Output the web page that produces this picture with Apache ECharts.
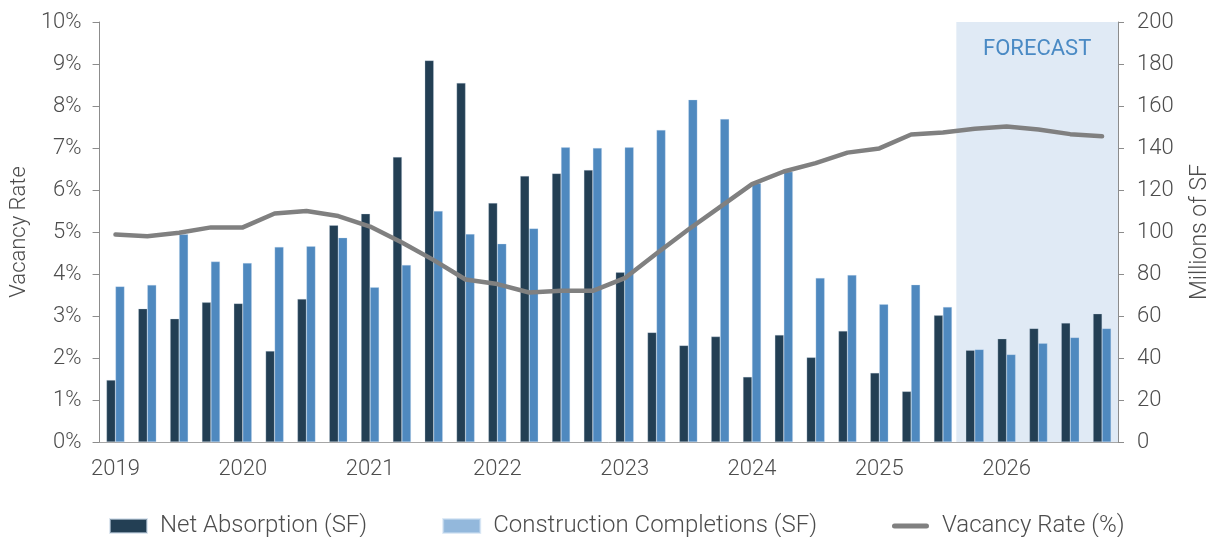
<!DOCTYPE html>
<html>
<head>
<meta charset="utf-8">
<script src="https://cdn.jsdelivr.net/npm/echarts@6/dist/echarts.min.js"></script>
<style>
html,body{margin:0;padding:0;background:#fff;}
#chart{width:1220px;height:537px;}
</style>
</head>
<body>
<div id="chart"></div>
<script>
const quarters = [
  '2019 Q1','2019 Q2','2019 Q3','2019 Q4',
  '2020 Q1','2020 Q2','2020 Q3','2020 Q4',
  '2021 Q1','2021 Q2','2021 Q3','2021 Q4',
  '2022 Q1','2022 Q2','2022 Q3','2022 Q4',
  '2023 Q1','2023 Q2','2023 Q3','2023 Q4',
  '2024 Q1','2024 Q2','2024 Q3','2024 Q4',
  '2025 Q1','2025 Q2','2025 Q3','2025 Q4',
  '2026 Q1','2026 Q2','2026 Q3','2026 Q4'
];
// Millions of SF (right axis)
const netAbsorption = [
  29.5, 63.5, 58.7, 66.5,
  66.0, 43.3, 68.1, 103.2,
  108.7, 135.7, 181.7, 171.0,
  113.8, 126.7, 127.9, 129.5,
  80.8, 52.2, 46.0, 50.2,
  31.0, 51.0, 40.3, 52.9,
  32.9, 24.1, 60.3, 43.7,
  49.2, 54.1, 56.7, 61.1
];
const constructionCompletions = [
  74.1, 74.8, 98.9, 85.9,
  85.2, 92.9, 93.2, 97.3,
  73.7, 84.3, 110.0, 99.0,
  94.4, 101.7, 140.3, 140.0,
  140.3, 148.6, 163.0, 153.8,
  123.2, 128.7, 78.1, 79.5,
  65.6, 74.9, 64.3, 44.1,
  41.7, 47.0, 49.8, 54.1
];
// Vacancy rate, % (left axis)
const vacancyRate = [
  4.94, 4.90, 4.98, 5.11,
  5.11, 5.44, 5.50, 5.38,
  5.13, 4.75, 4.33, 3.87,
  3.76, 3.56, 3.60, 3.60,
  3.90, 4.49, 5.06, 5.60,
  6.14, 6.44, 6.64, 6.89,
  6.99, 7.32, 7.37, 7.46,
  7.51, 7.44, 7.33, 7.28
];
const forecastStart = 26.92; // position along the quarter axis (in quarters)
const forecastEnd = 32;
const leftTicks = { min: 0, max: 10, interval: 1 };
const rightTicks = { min: 0, max: 200, interval: 20 };

const FONT = 'Roboto';
const TXT = '#4d4d4d';
const AX = '#8c8c8c';

const chart = echarts.init(document.getElementById('chart'), null, { renderer: 'canvas' });
chart.setOption({
  animation: false,
  backgroundColor: '#ffffff',
  textStyle: { fontFamily: FONT, fontWeight: 300 },
  grid: { left: 97, right: 99, top: 22, bottom: 95, containLabel: false },
  legend: {
    top: 514,
    left: 109,
    padding: 0,
    itemWidth: 37,
    itemHeight: 14,
    itemGap: 75,
    textStyle: { fontFamily: FONT, fontWeight: 300, fontSize: 24, color: TXT, padding: [0, 0, 0, 8] },
    data: [
      { name: 'Net Absorption (SF)', icon: 'rect', itemStyle: { color: '#233f54' } },
      { name: 'Construction Completions (SF)', icon: 'rect', itemStyle: { color: '#93b8dc' } },
      { name: 'Vacancy Rate (%)',
        icon: 'path://M2.5,0 H34.5 A2.5,2.5 0 0 1 34.5,5 H2.5 A2.5,2.5 0 0 1 2.5,0 Z',
        itemStyle: { color: '#808080' } }
    ]
  },
  xAxis: [
    {
      type: 'category',
      data: quarters,
      boundaryGap: true,
      axisLine: { show: true, lineStyle: { color: '#a6a6a6', width: 1 } },
      axisTick: { show: false },
      axisLabel: {
        interval: 3,
        margin: 16,
        fontSize: 22,
        fontFamily: FONT,
        fontWeight: 300,
        color: TXT,
        formatter: v => v.slice(0, 4)
      },
      splitLine: { show: false }
    },
    {
      type: 'value',
      min: 0,
      max: 32,
      show: false
    }
  ],
  yAxis: [
    {
      type: 'value',
      min: leftTicks.min, max: leftTicks.max, interval: leftTicks.interval,
      position: 'left',
      name: 'Vacancy Rate',
      nameLocation: 'middle',
      nameRotate: 90,
      nameGap: 66,
      nameTextStyle: { fontSize: 22, fontFamily: FONT, fontWeight: 300, color: TXT },
      axisLine: { show: true, lineStyle: { color: AX, width: 1 } },
      axisTick: { show: true, length: 7, lineStyle: { color: AX } },
      axisLabel: { formatter: '{value}%', margin: 18, fontSize: 22, fontFamily: FONT, fontWeight: 300, color: TXT },
      splitLine: { show: false }
    },
    {
      type: 'value',
      min: rightTicks.min, max: rightTicks.max, interval: rightTicks.interval,
      position: 'right',
      name: 'Millions of SF',
      nameLocation: 'middle',
      nameRotate: 90,
      nameGap: 71,
      nameTextStyle: { fontSize: 23, fontFamily: FONT, fontWeight: 300, color: TXT },
      axisLine: { show: true, lineStyle: { color: AX, width: 1 } },
      axisTick: { show: true, length: 6, lineStyle: { color: AX } },
      axisLabel: { margin: 19, fontSize: 22, fontFamily: FONT, fontWeight: 300, color: TXT },
      splitLine: { show: false }
    }
  ],
  series: [
    {
      name: 'forecast',
      type: 'line',
      xAxisIndex: 1,
      yAxisIndex: 0,
      data: [[0, null]],
      symbol: 'none',
      silent: true,
      z: 0,
      lineStyle: { opacity: 0 },
      markArea: {
        silent: true,
        itemStyle: { color: '#e0eaf5' },
        label: {
          show: true,
          position: 'insideTop',
          distance: 16,
          fontSize: 22,
          fontFamily: FONT,
          fontWeight: 400,
          color: '#4a8ac4'
        },
        data: [[{ name: 'FORECAST', xAxis: forecastStart }, { xAxis: forecastEnd }]]
      }
    },
    {
      name: 'Net Absorption (SF)',
      type: 'bar',
      yAxisIndex: 1,
      data: netAbsorption,
      barWidth: 9,
      barGap: '0%',
      z: 2,
      itemStyle: { color: '#233f54', borderColor: 'rgba(200,215,230,0.6)', borderWidth: 0.5 }
    },
    {
      name: 'Construction Completions (SF)',
      type: 'bar',
      yAxisIndex: 1,
      data: constructionCompletions,
      barWidth: 9,
      barGap: '0%',
      z: 2,
      itemStyle: { color: '#4f89bf', borderColor: 'rgba(200,220,240,0.6)', borderWidth: 0.5 }
    },
    {
      name: 'Vacancy Rate (%)',
      type: 'line',
      yAxisIndex: 0,
      data: vacancyRate,
      symbol: 'none',
      smooth: false,
      z: 3,
      lineStyle: { color: '#808080', width: 4.5, cap: 'round', join: 'round' },
      itemStyle: { color: '#808080' }
    }
  ]
});
</script>
</body>
</html>
